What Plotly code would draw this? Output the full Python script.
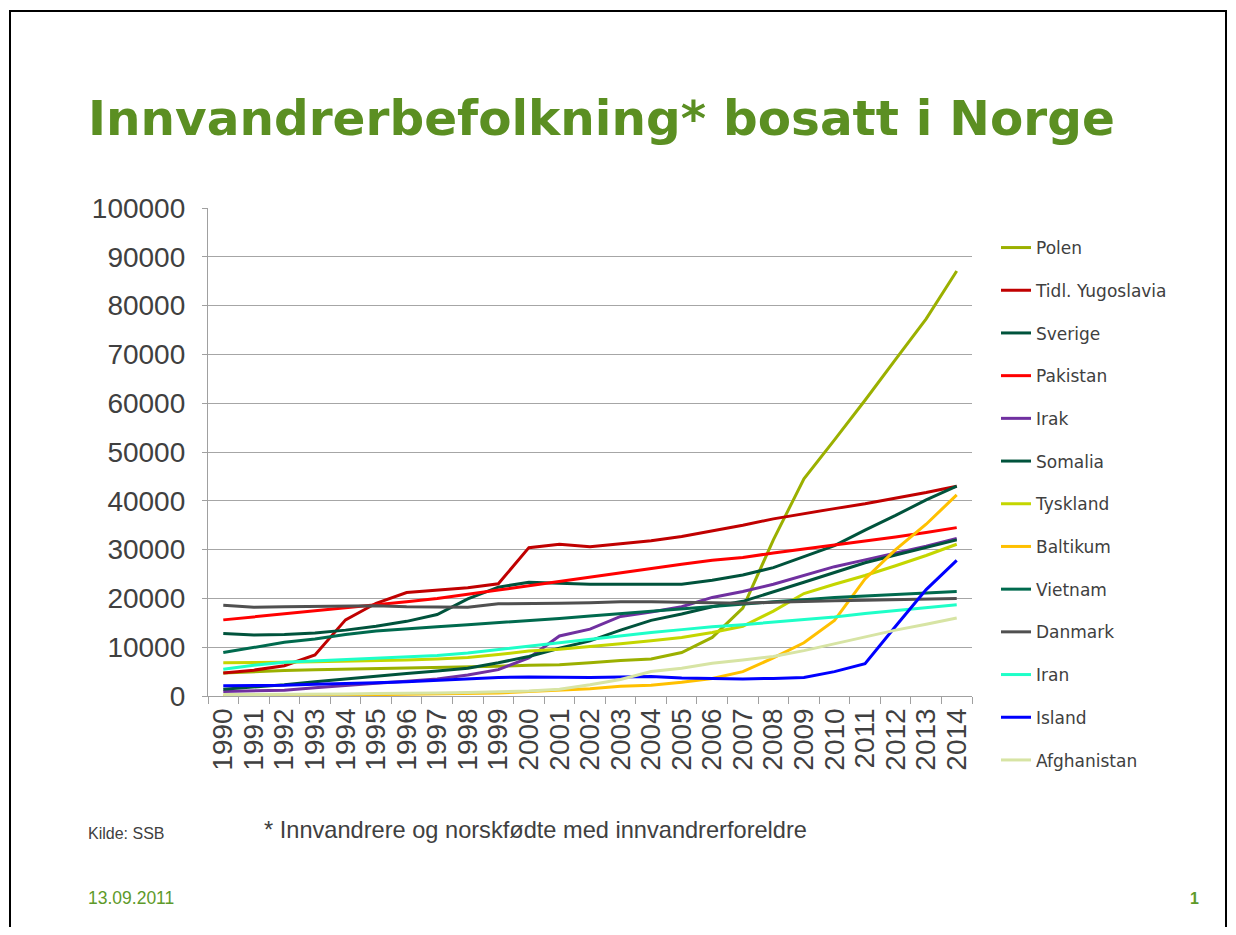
import plotly.graph_objects as go

years = [str(y) for y in range(1990, 2015)]

polen = [4700, 5000, 5200, 5400, 5500, 5600, 5700, 5800, 5900, 6100, 6300, 6400, 6800, 7300, 7600,
         8900, 12000, 18000, 32000, 44500, 52500, 60600, 69000, 77300, 87100]
yugoslavia = [4700, 5300, 6200, 8400, 15600, 19000, 21200, 21700, 22200, 23000, 30400, 31100, 30600, 31200, 31800,
              32700, 33800, 35000, 36300, 37400, 38400, 39400, 40500, 41700, 43000]
sverige = [12800, 12500, 12600, 12900, 13500, 14300, 15300, 16700, 19900, 22300, 23300, 23100, 22900, 22900, 22900,
           22900, 23700, 24800, 26300, 28500, 30800, 34000, 37000, 40200, 43000]
pakistan = [15600, 16200, 16800, 17400, 18000, 18700, 19300, 20000, 20800, 21700, 22600, 23500, 24400, 25300, 26100,
            27000, 27800, 28400, 29300, 30100, 31000, 31800, 32600, 33500, 34500]
irak = [900, 1000, 1200, 1700, 2200, 2600, 3000, 3500, 4300, 5400, 7800, 12300, 13700, 16300, 17200,
        18300, 20200, 21400, 22900, 24700, 26500, 27900, 29300, 30700, 32300]
somalia = [1400, 1800, 2300, 2900, 3500, 4100, 4600, 5100, 5700, 6800, 8100, 9800, 11300, 13500, 15500,
           16800, 18300, 19400, 21300, 23300, 25300, 27300, 28900, 30400, 32000]
tyskland = [6800, 6800, 6900, 7000, 7100, 7200, 7400, 7600, 7900, 8500, 9200, 9600, 10100, 10700, 11300,
            12000, 13000, 14300, 17400, 21000, 22900, 24700, 26700, 28800, 31100]
baltikum = [0, 100, 100, 200, 200, 300, 300, 400, 500, 600, 900, 1200, 1500, 2000, 2200,
            2800, 3600, 5000, 7800, 10900, 15500, 24000, 30000, 35200, 41200]
vietnam = [8900, 10000, 11000, 11700, 12600, 13300, 13800, 14200, 14600, 15000, 15400, 15900, 16400, 16900, 17400,
           17800, 18300, 18800, 19300, 19700, 20200, 20500, 20800, 21100, 21400]
danmark = [18600, 18200, 18300, 18400, 18500, 18500, 18300, 18200, 18200, 18900, 18900, 19000, 19100, 19300, 19300,
           19200, 19100, 19000, 19200, 19400, 19500, 19600, 19700, 19900, 20000]
iran = [5500, 6300, 6900, 7200, 7500, 7800, 8000, 8300, 8800, 9500, 10300, 11000, 11700, 12300, 13000,
        13600, 14200, 14600, 15100, 15600, 16200, 16900, 17500, 18100, 18700]
island = [2100, 2100, 2200, 2400, 2500, 2700, 2900, 3200, 3600, 3800, 3900, 3800, 3800, 3900, 4000,
          3700, 3600, 3500, 3600, 3800, 5000, 6600, 14300, 21800, 27800]
afghanistan = [300, 300, 300, 400, 400, 500, 500, 600, 700, 800, 1000, 1400, 2300, 3400, 5000,
               5700, 6700, 7400, 8100, 9300, 10700, 12000, 13500, 14700, 16000]

series_names = ["Polen", "Tidl. Yugoslavia", "Sverige", "Pakistan", "Irak", "Somalia", "Tyskland",
                "Baltikum", "Vietnam", "Danmark", "Iran", "Island", "Afghanistan"]
series_values = [polen, yugoslavia, sverige, pakistan, irak, somalia, tyskland,
                 baltikum, vietnam, danmark, iran, island, afghanistan]
series_colors = ["#9BB000", "#C00000", "#00533C", "#FF0000", "#7030A0", "#00533C", "#C4D600",
                 "#FFC000", "#006A4E", "#505050", "#1EFFC8", "#0000FF", "#D7E4A4"]

y_ticks = [0, 10000, 20000, 30000, 40000, 50000, 60000, 70000, 80000, 90000, 100000]

title_text = "Innvandrerbefolkning* bosatt i Norge"
source_text = "Kilde: SSB"
note_text = "* Innvandrere og norskfødte med innvandrerforeldre"
date_text = "13.09.2011"
page_text = "1"

# the page body has an 8px margin, so the figure is drawn 8px in from the window corner
OFF = 8
W, H = 1236 - 2 * OFF, 935 - 2 * OFF
# plot-area edges in window pixels
L, R, T, B = 208, 972, 208, 696


def px(x):
    return (x - L) / (R - L)


def py(y):
    return (B - y) / (B - T)


fig = go.Figure()
for name, vals, col in zip(series_names, series_values, series_colors):
    fig.add_trace(go.Scatter(x=years, y=vals, name=name, mode="lines", legendgroup=name,
                             line=dict(color=col, width=3)))

fig.update_layout(
    width=W, height=H,
    margin=dict(l=L - OFF, r=W - (R - OFF), t=T - OFF, b=H - (B - OFF), pad=0),
    paper_bgcolor="white", plot_bgcolor="white",
    font=dict(family="Liberation Sans, Arial, sans-serif", color="#404040"),
    showlegend=True,
    legend=dict(x=px(996), y=py(230), xanchor="left", yanchor="top",
                font=dict(family="DejaVu Sans, Verdana, sans-serif", size=17, color="#404040"),
                tracegroupgap=17.6, itemwidth=30, bgcolor="rgba(0,0,0,0)", maxheight=700),
    xaxis=dict(type="category", range=[-0.5, len(years) - 0.5],
               tickmode="array", tickvals=years, ticktext=years,
               showgrid=False, showline=True, linecolor="#A0A0A0", linewidth=1.3,
               ticks="outside", tickson="boundaries", ticklen=7, tickcolor="#A0A0A0",
               tickangle=-90, tickfont=dict(size=28, color="#404040"), fixedrange=True),
    yaxis=dict(range=[0, 100000], tickvals=y_ticks, ticktext=[str(v) for v in y_ticks],
               showgrid=True, gridcolor="#A6A6A6", gridwidth=1.3,
               showline=True, linecolor="#A0A0A0", linewidth=1.3,
               ticks="outside", ticklen=5, tickcolor="#A0A0A0", ticklabelstandoff=11,
               tickfont=dict(size=28, color="#404040"), zeroline=False),
)

annotations = [
    dict(text="<b>" + title_text + "</b>", x=px(86), y=py(118), xanchor="left", yanchor="middle",
         font=dict(family="DejaVu Sans, Verdana, sans-serif", size=48.5, color="#5B8F22")),
    dict(text=source_text, x=px(86), y=py(833), xanchor="left", yanchor="middle",
         font=dict(family="Liberation Sans, Arial, sans-serif", size=16, color="#404040")),
    dict(text=note_text, x=px(262), y=py(830), xanchor="left", yanchor="middle",
         font=dict(family="Liberation Sans, Arial, sans-serif", size=23.6, color="#404040")),
    dict(text=date_text, x=px(86), y=py(898), xanchor="left", yanchor="middle",
         font=dict(family="Liberation Sans, Arial, sans-serif", size=17.5, color="#5E9A2A")),
    dict(text="<b>" + page_text + "</b>", x=px(1201), y=py(898), xanchor="right", yanchor="middle",
         font=dict(family="Liberation Sans, Arial, sans-serif", size=16, color="#5E9A2A")),
]
for a in annotations:
    a.update(xref="paper", yref="paper", showarrow=False)
fig.update_layout(annotations=annotations)

fig.add_shape(type="rect", xref="paper", yref="paper",
              x0=px(10), x1=px(1226), y0=py(960), y1=py(11),
              line=dict(color="black", width=2), fillcolor="rgba(0,0,0,0)", layer="below")

fig.write_html("out.html")
